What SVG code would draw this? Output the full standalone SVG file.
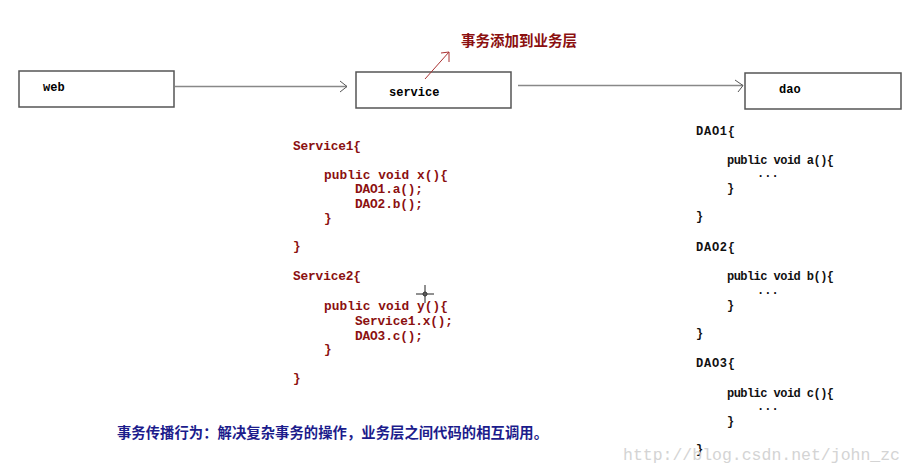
<svg xmlns="http://www.w3.org/2000/svg" width="913" height="474" viewBox="0 0 913 474">
<style>
.box{fill:#fff;stroke:#555;stroke-width:1.5}
.lbl{font-family:"Liberation Mono",monospace;font-weight:bold;font-size:12px;fill:#000}
.conn{stroke:#888;stroke-width:1.5;fill:none}
.head{stroke:#555;stroke-width:1;fill:none}
.red{font-family:"Liberation Mono",monospace;font-weight:bold;font-size:12.8px;fill:#8b1010}
.blk{font-family:"Liberation Mono",monospace;font-weight:bold;font-size:12px;fill:#111}
.cjk{font-family:"Noto Sans CJK SC",sans-serif;font-weight:bold}
</style>
<rect width="913" height="474" fill="#fff"/>
<g id="web">
<rect class="box" x="19" y="71" width="155" height="36"/>
<text class="lbl" x="43" y="91">web</text>
</g>
<g id="service">
<rect class="box" x="356" y="72" width="155" height="36"/>
<text class="lbl" x="389" y="96">service</text>
</g>
<g id="dao">
<rect class="box" x="745" y="73" width="156" height="36"/>
<text class="lbl" x="779" y="93">dao</text>
</g>
<g id="connectors">
<line class="conn" x1="175" y1="86.5" x2="347" y2="86.5"/>
<polyline class="head" points="340,81 347,86.5 340,92"/>
<line class="conn" x1="518" y1="85.5" x2="743" y2="85.5"/>
<polyline class="head" points="735,80 743,85.5 738,92"/>
<line x1="425" y1="79" x2="449" y2="52" stroke="#a33" stroke-width="1"/>
<polyline points="441,53 449,52 449,62" stroke="#a33" stroke-width="1" fill="none"/>
</g>
<text class="cjk" x="461" y="46" font-size="14.5" fill="#8b1010">事务添加到业务层</text>
<g id="service-code">
<text class="red" x="293" y="150" textLength="68">Service1{</text>
<text class="red" x="324" y="179" textLength="124">public void x(){</text>
<text class="red" x="355" y="193" textLength="68">DAO1.a();</text>
<text class="red" x="355" y="208" textLength="68">DAO2.b();</text>
<text class="red" x="324" y="222">}</text>
<text class="red" x="293" y="250">}</text>
<text class="red" x="293" y="280" textLength="68">Service2{</text>
<text class="red" x="324" y="310" textLength="124">public void y(){</text>
<text class="red" x="355" y="325" textLength="98">Service1.x();</text>
<text class="red" x="355" y="340" textLength="68">DAO3.c();</text>
<text class="red" x="324" y="353">}</text>
<text class="red" x="293" y="382">}</text>
</g>
<g id="dao-code">
<text class="blk" x="696" y="135" textLength="39">DAO1{</text>
<text class="blk" x="727" y="164" textLength="107">public void a(){</text>
<text class="blk" x="757" y="177">...</text>
<text class="blk" x="727" y="192">}</text>
<text class="blk" x="696" y="220">}</text>
<text class="blk" x="696" y="251" textLength="39">DAO2{</text>
<text class="blk" x="727" y="280" textLength="107">public void b(){</text>
<text class="blk" x="757" y="294">...</text>
<text class="blk" x="727" y="309">}</text>
<text class="blk" x="696" y="337">}</text>
<text class="blk" x="696" y="367" textLength="39">DAO3{</text>
<text class="blk" x="727" y="397" textLength="107">public void c(){</text>
<text class="blk" x="757" y="410">...</text>
<text class="blk" x="727" y="425">}</text>
<text class="blk" x="696" y="453">}</text>
</g>
<text class="cjk" x="117" y="438" font-size="14.3" fill="#1c1c8c" textLength="431">事务传播行为：解决复杂事务的操作，业务层之间代码的相互调用。</text>
<text x="623" y="460" font-family="Liberation Mono,monospace" font-size="16.5" fill="#d4d4d4" textLength="277">http://blog.csdn.net/john_zc</text>
<g id="cursor" stroke="#222" stroke-width="1" fill="none">
<line x1="425" y1="285" x2="425" y2="303"/>
<line x1="416" y1="294" x2="434" y2="294"/>
<circle cx="425" cy="294" r="2"/>
</g>
</svg>
